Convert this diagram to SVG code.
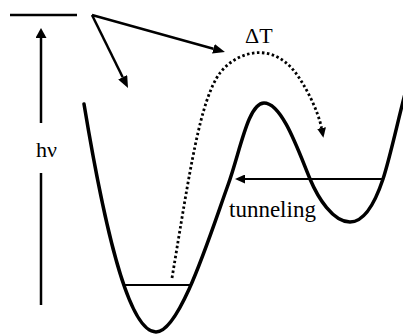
<svg xmlns="http://www.w3.org/2000/svg" width="403" height="334" viewBox="0 0 403 334">
<style>
.ln{stroke:#000;stroke-width:2.5;fill:none}
.thin{stroke:#000;stroke-width:2;fill:none}
.curve{stroke:#000;stroke-width:3.5;fill:none;stroke-linecap:round}
.dot{stroke:#000;stroke-width:2.8;fill:none;stroke-dasharray:2.5 2.5}
</style>
<defs>
<marker id="ah" viewBox="0 0 10 10" preserveAspectRatio="none" refX="0" refY="5" markerUnits="userSpaceOnUse" markerWidth="12" markerHeight="10" orient="auto"><path d="M0,0 L10,5 L0,10 z" fill="#000"/></marker>
<marker id="ah2" viewBox="0 0 10 10" preserveAspectRatio="none" refX="0" refY="5" markerUnits="userSpaceOnUse" markerWidth="10" markerHeight="9" orient="auto"><path d="M0,0 L10,5 L0,10 z" fill="#000"/></marker>
<marker id="ah3" viewBox="0 0 10 10" preserveAspectRatio="none" refX="0" refY="5" markerUnits="userSpaceOnUse" markerWidth="10" markerHeight="11" orient="auto"><path d="M0,0 L10,5 L0,10 z" fill="#000"/></marker>
</defs>
<g id="potential">
<path class="curve" d="M84,104 C104,225 128,332 156,332 C180,332 210,235 228,185 C240,152 248,103 264,103 C282,103 298,150 310,179 C318,198 333,222 350,222 C365,222 376,200 383,179 C390,158 398,120 406,90"/>
</g>
<g id="excited-level"><line class="ln" x1="10" y1="15" x2="77" y2="15"/></g>
<g id="ground-level"><line class="thin" x1="123" y1="285" x2="190" y2="285"/></g>
<g id="hv-label"><text x="36" y="157" font-family="Liberation Serif, serif" font-size="22" fill="#000">hν</text></g>
<g id="dT-label"><text x="245" y="43" font-family="Liberation Serif, serif" font-size="22" fill="#000">ΔT</text></g>
<g id="tunneling-label"><text x="229" y="217" font-family="Liberation Serif, serif" font-size="23" fill="#000">tunneling</text></g>
<g id="connectors">
<path class="ln" d="M41,123 L41,38" marker-end="url(#ah3)"/>
<line class="ln" x1="41" y1="173" x2="41" y2="305"/>
<path class="ln" d="M92,15 L122.7,77.2" marker-end="url(#ah)"/>
<path class="ln" d="M92,15 L213.4,48.8" marker-end="url(#ah)"/>
<path class="thin" d="M382,179 L245,179" marker-end="url(#ah2)"/>
<path class="dot" d="M172,278 C190,170 200,100 220,73 C235,53 270,40 295,72 C305,85 318,110 321.5,128" marker-end="url(#ah2)"/>
</g>
</svg>
